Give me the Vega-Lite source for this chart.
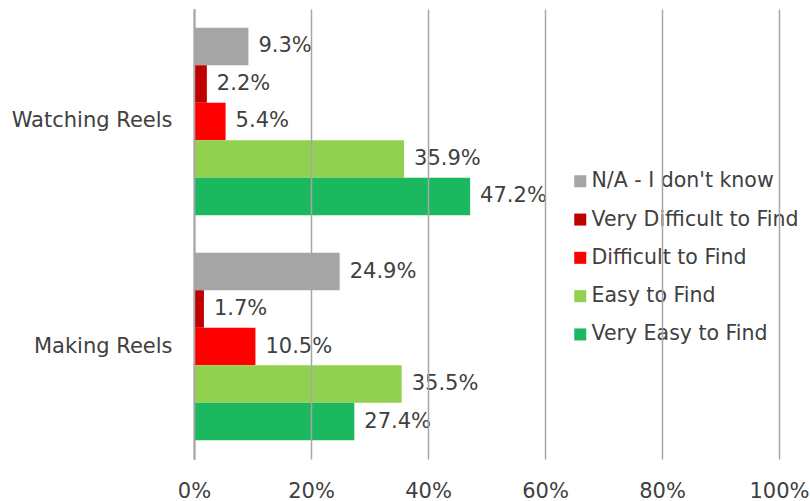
{
  "$schema": "https://vega.github.io/schema/vega-lite/v6.json",
  "width": 585,
  "height": 450,
  "autosize": {"type": "none"},
  "padding": {"left": 194, "top": 9, "right": 31, "bottom": 42},
  "background": "white",
  "config": {
    "view": {"stroke": null},
    "font": "DejaVu Sans",
    "text": {"font": "DejaVu Sans"}
  },
  "data": {
    "values": [
      {"activity": "Watching Reels", "response": "N/A - I don't know", "value": 0.093},
      {"activity": "Watching Reels", "response": "Very Difficult to Find", "value": 0.022},
      {"activity": "Watching Reels", "response": "Difficult to Find", "value": 0.054},
      {"activity": "Watching Reels", "response": "Easy to Find", "value": 0.359},
      {"activity": "Watching Reels", "response": "Very Easy to Find", "value": 0.472},
      {"activity": "Making Reels", "response": "N/A - I don't know", "value": 0.249},
      {"activity": "Making Reels", "response": "Very Difficult to Find", "value": 0.017},
      {"activity": "Making Reels", "response": "Difficult to Find", "value": 0.105},
      {"activity": "Making Reels", "response": "Easy to Find", "value": 0.355},
      {"activity": "Making Reels", "response": "Very Easy to Find", "value": 0.274}
    ]
  },
  "encoding": {
    "y": {
      "field": "activity",
      "type": "nominal",
      "sort": ["Watching Reels", "Making Reels"],
      "scale": {"paddingInner": 0.16667, "paddingOuter": 0.08333},
      "axis": {
        "title": null,
        "ticks": false,
        "domain": true,
        "domainColor": "#404040",
        "domainWidth": 1.5,
        "labelFontSize": 21,
        "labelColor": "#404040",
        "labelPadding": 22,
        "labelFont": "DejaVu Sans"
      }
    },
    "yOffset": {
      "field": "response",
      "type": "nominal",
      "sort": ["N/A - I don't know", "Very Difficult to Find", "Difficult to Find", "Easy to Find", "Very Easy to Find"],
      "scale": {"paddingInner": 0, "paddingOuter": 0}
    },
    "x": {
      "field": "value",
      "type": "quantitative",
      "scale": {"domain": [0, 1], "nice": false},
      "axis": {
        "title": null,
        "format": ".0%",
        "values": [0, 0.2, 0.4, 0.6, 0.8, 1],
        "domain": false,
        "ticks": false,
        "grid": true,
        "gridColor": "#a6a6a6",
        "gridWidth": 1.5,
        "zindex": 1,
        "labelFlush": false,
        "labelFontSize": 21,
        "labelColor": "#404040",
        "labelPadding": 21,
        "labelFont": "DejaVu Sans"
      }
    }
  },
  "layer": [
    {
      "mark": {"type": "bar"},
      "encoding": {
        "color": {
          "field": "response",
          "type": "nominal",
          "sort": ["N/A - I don't know", "Very Difficult to Find", "Difficult to Find", "Easy to Find", "Very Easy to Find"],
          "scale": {
            "domain": ["N/A - I don't know", "Very Difficult to Find", "Difficult to Find", "Easy to Find", "Very Easy to Find"],
            "range": ["#a5a5a5", "#c00000", "#ff0000", "#92d050", "#1bb85f"]
          },
          "legend": {
            "title": null,
            "orient": "none",
            "legendX": 376,
            "legendY": 162,
            "padding": 0,
            "symbolType": "square",
            "symbolSize": 144,
            "symbolStrokeWidth": 0,
            "labelFontSize": 20.5,
            "labelColor": "#404040",
            "labelFont": "DejaVu Sans",
            "labelOffset": 1,
            "rowPadding": 17.3,
            "labelLimit": 400
          }
        }
      }
    },
    {
      "mark": {"type": "text", "align": "left", "baseline": "middle", "dx": 10, "fontSize": 21, "color": "#404040", "font": "DejaVu Sans"},
      "encoding": {
        "text": {"field": "value", "type": "quantitative", "format": ".1%"}
      }
    }
  ]
}
